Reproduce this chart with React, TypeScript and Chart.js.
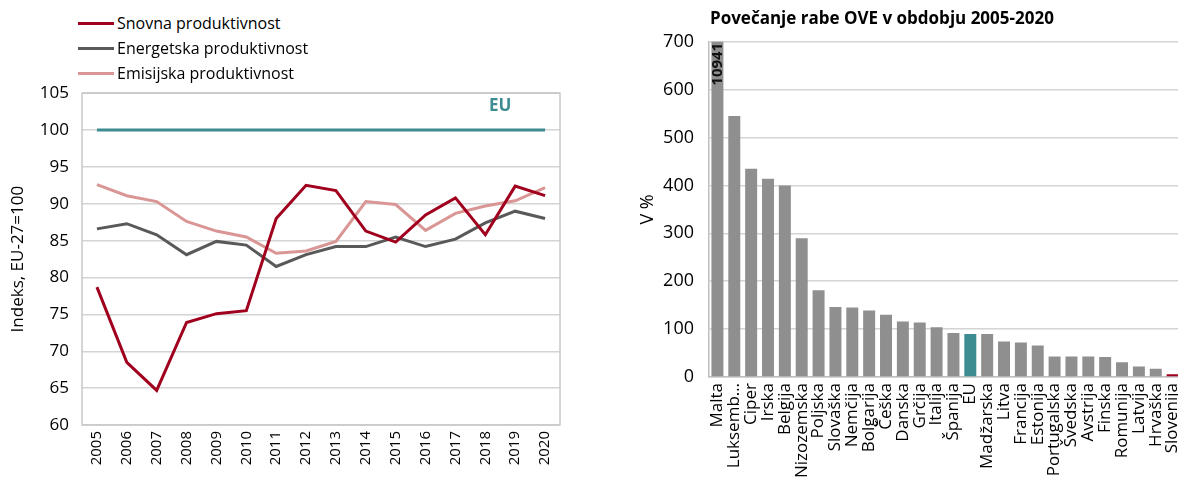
import React, { useEffect, useRef } from "react";
import { Chart, registerables } from "chart.js";
Chart.register(...registerables);

const FONT = "'Open Sans', 'Noto Sans', sans-serif";

// Left chart data
const years = ["2005", "2006", "2007", "2008", "2009", "2010", "2011", "2012", "2013", "2014", "2015", "2016", "2017", "2018", "2019", "2020"];
const snovna = [78.7, 68.5, 64.7, 73.9, 75.1, 75.5, 88.0, 92.5, 91.8, 86.3, 84.8, 88.5, 90.8, 85.8, 92.4, 91.1];
const energetska = [86.6, 87.3, 85.8, 83.1, 84.9, 84.4, 81.5, 83.1, 84.2, 84.2, 85.5, 84.2, 85.2, 87.4, 89.0, 88.0];
const emisijska = [92.6, 91.1, 90.3, 87.6, 86.3, 85.5, 83.3, 83.6, 84.9, 90.3, 89.9, 86.4, 88.7, 89.7, 90.4, 92.2];
const euLevel = [100, 100, 100, 100, 100, 100, 100, 100, 100, 100, 100, 100, 100, 100, 100, 100];
const seriesNames = ["Snovna produktivnost", "Energetska produktivnost", "Emisijska produktivnost"];
const leftYTicks = [60, 65, 70, 75, 80, 85, 90, 95, 100, 105];

// Right chart data
const countries = ["Malta", "Luksemb…", "Ciper", "Irska", "Belgija", "Nizozemska", "Poljska", "Slovaška", "Nemčija", "Bolgarija", "Češka", "Danska", "Grčija", "Italija", "Španija", "EU", "Madžarska", "Litva", "Francija", "Estonija", "Portugalska", "Švedska", "Avstrija", "Finska", "Romunija", "Latvija", "Hrvaška", "Slovenija"];
const oveIncrease = [10941, 545, 435, 414, 400, 290, 181, 146, 145, 139, 130, 116, 114, 104, 92, 90, 90, 74, 72, 66, 43, 43, 43, 42, 31, 22, 17, 6];
const rightYTicks = [0, 100, 200, 300, 400, 500, 600, 700];

const RED = "#A0001E";
const DGREY = "#595959";
const PINK = "#DA9694";
const TEAL = "#3C8C91";
const BARGREY = "#8F8F8F";

export default function App() {
  const leftRef = useRef<HTMLCanvasElement>(null);
  const rightRef = useRef<HTMLCanvasElement>(null);

  useEffect(() => {
    const leftPlugin = {
      id: "leftExtras",
      beforeDatasetsDraw(chart: any) {
        const { ctx, chartArea } = chart;
        ctx.save();
        ctx.strokeStyle = "#C8C8C8";
        ctx.lineWidth = 1.5;
        ctx.strokeRect(chartArea.left, chartArea.top, chartArea.right - chartArea.left, chartArea.bottom - chartArea.top);
        ctx.restore();
      },
      afterDatasetsDraw(chart: any) {
        const { ctx, scales } = chart;
        const x = scales.x.getPixelForValue(13.5);
        const y = scales.y.getPixelForValue(103.2);
        ctx.save();
        ctx.fillStyle = TEAL;
        ctx.font = `bold 17px ${FONT}`;
        ctx.textAlign = "center";
        ctx.textBaseline = "middle";
        ctx.fillText("EU", x, y);
        ctx.restore();
      },
    };

    const c1 = new Chart(leftRef.current!, {
      type: "line",
      data: {
        labels: years,
        datasets: [
          { label: "EU", data: euLevel, borderColor: TEAL, borderWidth: 3, pointRadius: 0, tension: 0 },
          { label: seriesNames[0], data: snovna, borderColor: RED, borderWidth: 3, pointRadius: 0, tension: 0 },
          { label: seriesNames[1], data: energetska, borderColor: DGREY, borderWidth: 3, pointRadius: 0, tension: 0 },
          { label: seriesNames[2], data: emisijska, borderColor: PINK, borderWidth: 3, pointRadius: 0, tension: 0 },
        ],
      },
      options: {
        animation: false,
        responsive: true,
        maintainAspectRatio: false,
        layout: { padding: { left: 0, right: 20, top: 2, bottom: 0 } },
        plugins: { legend: { display: false }, tooltip: { enabled: false } },
        scales: {
          x: {
            offset: true,
            grid: { display: false, drawTicks: false },
            border: { display: false },
            ticks: {
              color: "#000",
              font: { family: FONT, size: 15 },
              minRotation: 90,
              maxRotation: 90,
              autoSkip: false,
              padding: 6,
            },
            afterFit: (s: any) => { s.height = 54; },
          },
          y: {
            min: 60,
            max: 105,
            afterBuildTicks: (s: any) => { s.ticks = leftYTicks.map((v) => ({ value: v })); },
            grid: { color: "#D4D4D4", lineWidth: 1.5, drawTicks: false },
            border: { display: false },
            ticks: { color: "#000", font: { family: FONT, size: 17 }, padding: 13 },
            title: {
              display: true,
              text: "Indeks, EU-27=100",
              color: "#000",
              font: { family: FONT, size: 17 },
              padding: { top: 8, bottom: 0 },
            },
            afterFit: (s: any) => { s.width = 82; },
          },
        },
      },
      plugins: [leftPlugin],
    });

    const rightPlugin = {
      id: "rightExtras",
      afterDatasetsDraw(chart: any) {
        const { ctx, scales, chartArea } = chart;
        const x = scales.x.getPixelForValue(0);
        ctx.save();
        ctx.translate(x, chartArea.top + 1);
        ctx.rotate(-Math.PI / 2);
        ctx.fillStyle = "#111";
        ctx.font = `bold 15px ${FONT}`;
        ctx.textAlign = "right";
        ctx.textBaseline = "middle";
        ctx.fillText(String(oveIncrease[0]), 0, 0);
        ctx.restore();
      },
    };

    const c2 = new Chart(rightRef.current!, {
      type: "bar",
      data: {
        labels: countries,
        datasets: [
          {
            label: "Povečanje rabe OVE",
            data: oveIncrease,
            backgroundColor: countries.map((c) => (c === "EU" ? TEAL : c === "Slovenija" ? RED : BARGREY)),
            barPercentage: 0.71,
            categoryPercentage: 1,
          },
        ],
      },
      options: {
        animation: false,
        responsive: true,
        maintainAspectRatio: false,
        layout: { padding: { left: 0, right: 0, top: 0, bottom: 0 } },
        plugins: { legend: { display: false }, tooltip: { enabled: false } },
        scales: {
          x: {
            grid: { display: false, drawTicks: false },
            border: { display: true, color: "#BFBFBF", width: 1.5 },
            ticks: {
              color: "#000",
              font: { family: FONT, size: 17 },
              minRotation: 90,
              maxRotation: 90,
              autoSkip: false,
              padding: 6,
            },
            afterFit: (s: any) => { s.height = 102; },
          },
          y: {
            min: 0,
            max: 700,
            afterBuildTicks: (s: any) => { s.ticks = rightYTicks.map((v) => ({ value: v })); },
            grid: { color: "#D4D4D4", lineWidth: 1.5, drawTicks: false },
            border: { display: true, color: "#BFBFBF", width: 1.5 },
            ticks: { color: "#000", font: { family: FONT, size: 18 }, padding: 15 },
            title: {
              display: true,
              text: "V %",
              color: "#000",
              font: { family: FONT, size: 18 },
              padding: { top: 7, bottom: 0 },
            },
            afterFit: (s: any) => { s.width = 79; },
          },
        },
      },
      plugins: [rightPlugin],
    });

    return () => {
      c1.destroy();
      c2.destroy();
    };
  }, []);

  const legendItems = [
    { name: seriesNames[0], color: RED },
    { name: seriesNames[1], color: DGREY },
    { name: seriesNames[2], color: PINK },
  ];

  return (
    <div
      style={{
        position: "absolute",
        left: 0,
        top: 0,
        width: 1178,
        height: 479,
        overflow: "hidden",
        background: "#fff",
        fontFamily: FONT,
        color: "#000",
      }}
    >
      <div style={{ position: "absolute", left: 0, top: 70, width: 580, height: 409 }}>
        <canvas ref={leftRef} />
      </div>
      {legendItems.map((it, i) => (
        <div
          key={it.name}
          style={{
            position: "absolute",
            left: 78,
            top: 12 + i * 25,
            height: 22,
            display: "flex",
            alignItems: "center",
            fontSize: 16,
            whiteSpace: "nowrap",
          }}
        >
          <span style={{ display: "inline-block", width: 36, height: 3, background: it.color, marginRight: 3 }} />
          <span>{it.name}</span>
        </div>
      ))}
      <div style={{ position: "absolute", left: 630, top: 16, width: 569, height: 463 }}>
        <canvas ref={rightRef} />
      </div>
      <div
        style={{
          position: "absolute",
          left: 710,
          top: 6,
          fontSize: 17,
          fontWeight: 700,
          whiteSpace: "nowrap",
        }}
      >
        Povečanje rabe OVE v obdobju 2005-2020
      </div>
    </div>
  );
}
